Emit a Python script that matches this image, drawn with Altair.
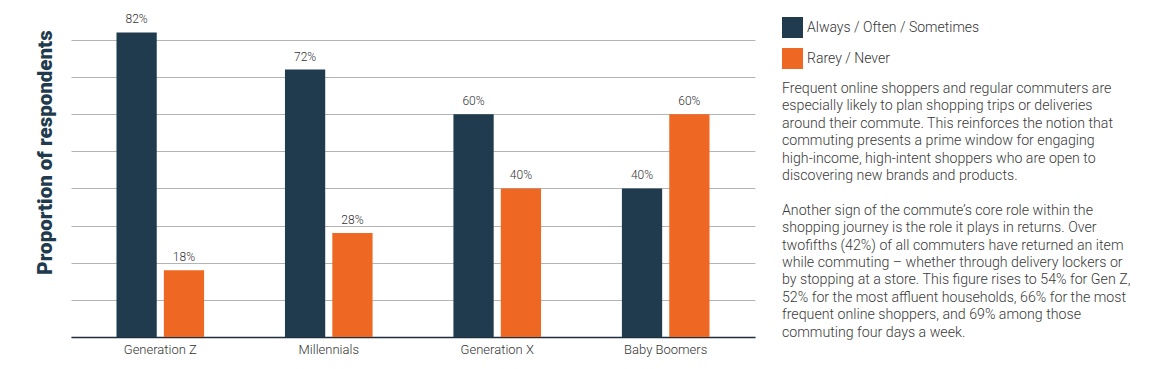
import altair as alt
import pandas as pd

categories = ["Generation Z", "Millennials", "Generation X", "Baby Boomers"]
series = ["Always / Often / Sometimes", "Rarey / Never"]
frequent = [82, 72, 60, 40]
rare = [18, 28, 40, 60]
colors = ["#1f3b4d", "#ee6723"]
grid_ticks = [0, 10, 20, 30, 40, 50, 60, 70, 80]

paragraph_lines = [
    "Frequent online shoppers and regular commuters are",
    "especially likely to plan shopping trips or deliveries",
    "around their commute. This reinforces the notion that",
    "commuting presents a prime window for engaging",
    "high-income, high-intent shoppers who are open to",
    "discovering new brands and products.",
    "",
    "Another sign of the commute\u2019s core role within the",
    "shopping journey is the role it plays in returns. Over",
    "twofifths (42%) of all commuters have returned an item",
    "while commuting \u2013 whether through delivery lockers or",
    "by stopping at a store. This figure rises to 54% for Gen Z,",
    "52% for the most affluent households, 66% for the most",
    "frequent online shoppers, and 69% among those",
    "commuting four days a week.",
]

rows = []
for c, f, r in zip(categories, frequent, rare):
    rows.append({"cat": c, "series": series[0], "value": f, "label": f"{f}%"})
    rows.append({"cat": c, "series": series[1], "value": r, "label": f"{r}%"})
df = pd.DataFrame(rows)

text_df = pd.DataFrame({"line": list(range(len(paragraph_lines))), "text": paragraph_lines})

W, H = 684, 325

x_enc = alt.X(
    "cat:N",
    sort=categories,
    title=None,
    scale=alt.Scale(paddingInner=0.48, paddingOuter=0.27),
    axis=alt.Axis(
        labelAngle=0,
        labelFontSize=13,
        labelColor="#333333",
        labelFont="Roboto",
        labelFontWeight=300,
        labelPadding=6,
        ticks=False,
        domainColor="#1f2f3c",
        domainWidth=1.5,
        grid=False,
    ),
)
y_enc = alt.Y(
    "value:Q",
    scale=alt.Scale(domain=[0, 87.5], nice=False),
    title="Proportion of respondents",
    axis=alt.Axis(
        values=grid_ticks,
        labels=False,
        ticks=False,
        domain=False,
        grid=True,
        gridColor="#b4b4b4",
        gridWidth=1,
        titleFont="Roboto",
        titleFontWeight=900,
        titleFontSize=20.5,
        titleColor="#1f3b4d",
        titleX=-16,
        titleY=140,
    ),
)
xoff = alt.XOffset("series:N", sort=series, scale=alt.Scale(paddingInner=0.15))

bars = alt.Chart(df).mark_bar().encode(
    x=x_enc,
    y=y_enc,
    xOffset=xoff,
    color=alt.Color(
        "series:N",
        sort=series,
        scale=alt.Scale(domain=series, range=colors),
        legend=alt.Legend(
            title=None,
            orient="none",
            legendX=711,
            legendY=5,
            symbolType="square",
            symbolSize=441,
            symbolStrokeWidth=0,
            symbolOpacity=1,
            labelFontSize=14,
            labelFont="Roboto",
            labelFontWeight=300,
            labelColor="#333333",
            labelOffset=4,
            labelLimit=0,
            rowPadding=10,
            padding=0,
        ),
    ),
)

labels = alt.Chart(df).mark_text(
    baseline="bottom", dy=-6, fontSize=12, font="Roboto", fontWeight=300, color="#333333"
).encode(
    x=alt.X("cat:N", sort=categories),
    y=alt.Y("value:Q"),
    xOffset=alt.XOffset("series:N", sort=series),
    text="label:N",
)

main = alt.layer(bars, labels)

para = alt.Chart(text_df).mark_text(
    align="left", baseline="middle", fontSize=14.2, font="Roboto", fontWeight=300, color="#3a3a3a"
).encode(
    x=alt.value(711),
    y=alt.Y(
        "line:Q",
        scale=alt.Scale(domain=[-4.43, 14.25], reverse=True, nice=False, zero=False),
        axis=None,
    ),
    text="text:N",
)

chart = (
    alt.layer(main, para)
    .resolve_scale(y="independent")
    .properties(
        width=W,
        height=H,
        padding={"left": 63, "top": 4, "right": 394, "bottom": 24},
        autosize=alt.AutoSizeParams(type="none"),
        background="white",
    )
    .configure_view(stroke=None)
)

chart.save("out.html", embed_options={"renderer": "svg", "actions": False})
